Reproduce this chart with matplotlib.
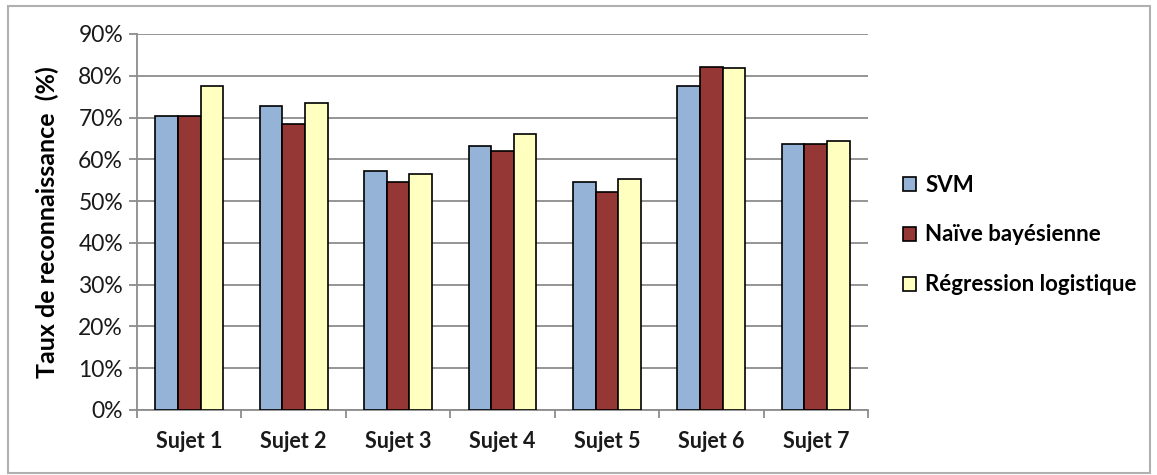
import numpy as np
import matplotlib
matplotlib.use("Agg")
import matplotlib.pyplot as plt
from matplotlib.patches import Rectangle

# valeurs (%)
sujets = ["Sujet 1", "Sujet 2", "Sujet 3", "Sujet 4", "Sujet 5", "Sujet 6", "Sujet 7"]
svm = [70.4, 72.7, 57.3, 63.1, 54.5, 77.5, 63.6]
naive_bayes = [70.4, 68.4, 54.5, 62.1, 52.1, 82.2, 63.6]
reg_log = [77.5, 73.6, 56.4, 66.0, 55.4, 81.8, 64.5]
series_noms = ["SVM", "Naïve bayésienne", "Régression logistique"]
couleurs = ["#95B3D7", "#953735", "#FFFFC0"]

plt.rcParams['font.family'] = ['Lato', 'DejaVu Sans']

fig = plt.figure(figsize=(11.57, 4.75), dpi=100)
ax = fig.add_axes([137/1157, 65/475, (868-137)/1157, (410-34)/475])

x = np.arange(len(sujets))
largeur = 0.217
for i, (vals, nom, c) in enumerate(zip([svm, naive_bayes, reg_log], series_noms, couleurs)):
    ax.bar(x + (i - 1) * largeur, vals, largeur, color=c, edgecolor="black",
           linewidth=1.2, label=nom, zorder=3)

ax.set_xlim(-0.5, len(sujets) - 0.5)
ax.set_ylim(0, 90)
ax.set_yticks(np.arange(0, 91, 10))
ax.set_yticklabels([f"{v}%" for v in range(0, 91, 10)], fontsize=16.5, color="#1a1a1a")
ax.yaxis.grid(True, color="#8c8c8c", linewidth=1.3, zorder=0)

# ticks aux frontieres, etiquettes au centre
ax.set_xticks(np.arange(-0.5, len(sujets)), minor=False)
ax.set_xticklabels([])
ax.set_xticks(x, minor=True)
ax.set_xticklabels(sujets, minor=True, fontsize=15.5, fontweight="bold", color="#1a1a1a")
ax.tick_params(axis="x", which="minor", length=0, pad=15)
ax.tick_params(axis="x", which="major", length=6, color="#8c8c8c", width=1.3, direction="out")
ax.tick_params(axis="y", length=6, color="#8c8c8c", width=1.3, direction="out", pad=4)

for s in ["top", "right"]:
    ax.spines[s].set_visible(False)
for s in ["left", "bottom"]:
    ax.spines[s].set_color("#8c8c8c")
    ax.spines[s].set_linewidth(1.3)

ax.set_ylabel("Taux de reconnaissance  (%)", fontsize=18, fontweight="bold", labelpad=14)

leg = fig.legend(loc="center left", bbox_to_anchor=(883/1157, 240/475),
                 frameon=False, fontsize=16, handlelength=0.6, handleheight=0.6,
                 handletextpad=0.4, labelspacing=1.3)
for t in leg.get_texts():
    t.set_fontweight("bold")

# cadre exterieur du graphique
fig.patches.append(Rectangle((8/1157, 2/475), 1142/1157, 467/475, transform=fig.transFigure,
                             fill=False, edgecolor="#b0b0b0", linewidth=1.5))

fig.savefig("out.png", dpi=100)
